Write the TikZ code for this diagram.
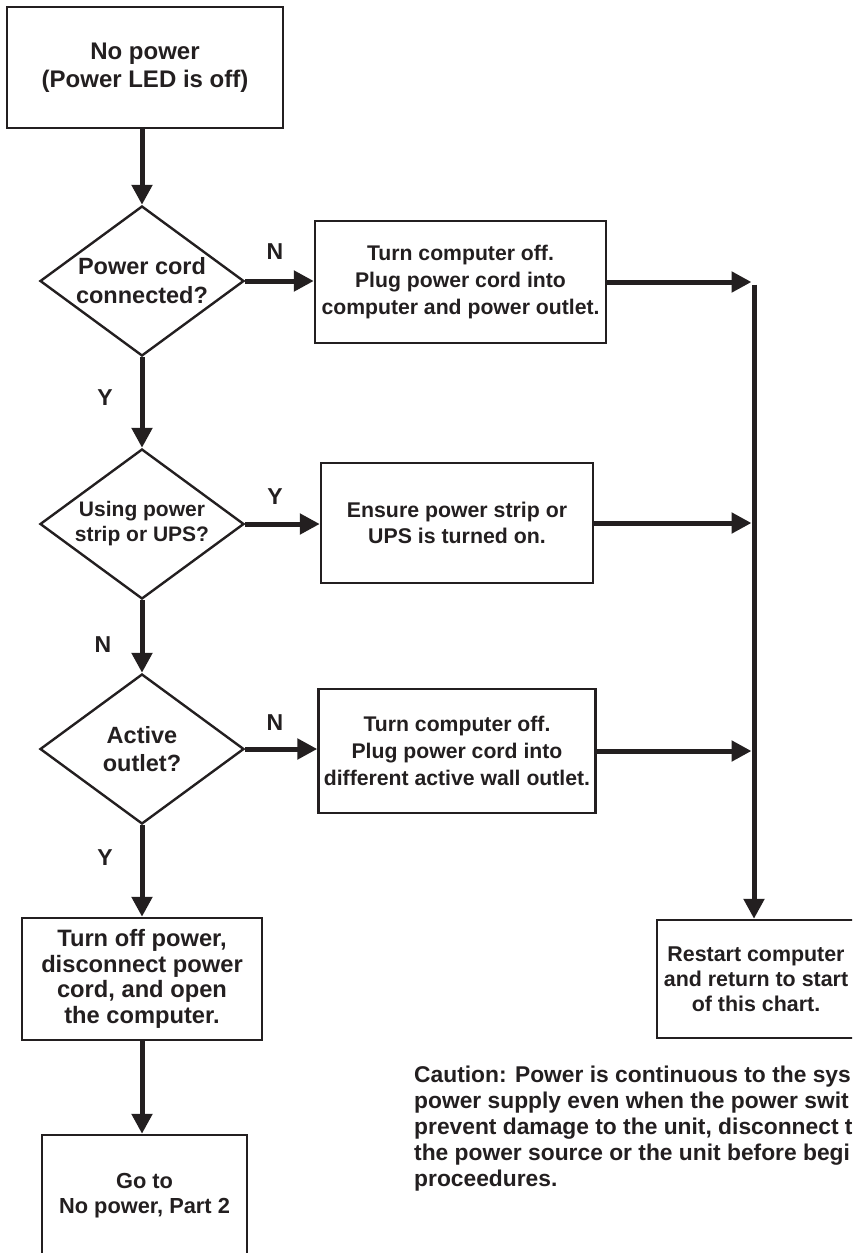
\documentclass[tikz,border=0pt]{standalone}
\usepackage{fontspec}
\setmainfont{Liberation Sans}
\usetikzlibrary{shapes.geometric,arrows.meta}
\definecolor{ink}{RGB}{35,31,32}
\begin{document}
\begin{tikzpicture}[x=1pt,y=-1pt,
  every node/.style={text=ink},
  box/.style={draw=ink, line width=2.4pt, rectangle, inner sep=0pt, align=center},
  dia/.style={draw=ink, line width=2.4pt, diamond, aspect=1.36, inner sep=0pt,
              minimum width=204pt, minimum height=150pt, align=center},
  flow/.style={draw=ink, line width=5pt, -{Triangle[length=20pt,width=20pt]}},
  lbl/.style={font=\bfseries\fontsize{23}{27}\selectfont, inner sep=0pt},
  fs/.style 2 args={font=\bfseries\fontsize{#1}{#2}\selectfont},
]
\useasboundingbox (0,0) rectangle (852,1253);
\clip (0,0) rectangle (852,1253);

% boxes and decisions
\node[box, fs={24}{28}, minimum width=276pt, minimum height=121pt] (b1) at (145,67.5)
  {No power\\(Power LED is off)};
\node[dia, fs={23.5}{29}] (d1) at (142,281) {Power cord\\connected?};
\node[box, fs={21.2}{27}, minimum width=291pt, minimum height=122pt] (b2) at (460.5,282)
  {Turn computer off.\\Plug power cord into\\computer and power outlet.};
\node[dia, fs={21}{25}] (d2) at (142,524) {Using power\\strip or UPS?};
\node[box, fs={21.3}{25.5}, minimum width=272pt, minimum height=120pt] (b3) at (457,523)
  {Ensure power strip or\\UPS is turned on.};
\node[dia, fs={23.5}{28}] (d3) at (142,749) {Active\\outlet?};
\node[box, fs={21.2}{27}, minimum width=277pt, minimum height=124pt] (b4) at (457,751)
  {Turn computer off.\\Plug power cord into\\different active wall outlet.};
\node[box, fs={23.7}{25.7}, minimum width=240pt, minimum height=122pt] (b5) at (142,979)
  {Turn off power,\\disconnect power\\cord, and open\\the computer.};
\node[box, fs={21.8}{25}, minimum width=205pt, minimum height=121pt] (b6) at (144.5,1195.5)
  {Go to\\No power, Part 2};
\node[box, fs={21.4}{25}, minimum width=198pt, minimum height=118pt] (rs) at (756,979)
  {Restart computer\\and return to start\\of this chart.};

\node[fs={22.8}{26}, inner sep=0pt, align=left, anchor=north west] (caution) at (414,1066)
  {Caution: Power is continuous to the sys\\power supply even when the power swit\\prevent damage to the unit, disconnect t\\the power source or the unit before begi\\proceedures.};

% labels
\node[lbl] (lN1) at (275,252) {N};
\node[lbl] (lY1) at (105,398) {Y};
\node[lbl] (lY2) at (275,497) {Y};
\node[lbl] (lN2) at (103,645) {N};
\node[lbl] (lN3) at (275,723) {N};
\node[lbl] (lY3) at (105,858) {Y};

% junctions on the collecting line
\coordinate (j1) at (754,282);
\coordinate (j2) at (754,523);
\coordinate (j3) at (754,751);

% main column
\draw[flow] (b1.south -| d1.north) -- (d1.north);
\draw[flow] (d1.south) -- (d2.north);
\draw[flow] (d2.south) -- (d3.north);
\draw[flow] (d3.south) -- (d3.south |- b5.north);
\draw[flow] (d3.south |- b5.south) -- (d3.south |- b6.north);

% side branches
\draw[flow] (d1.east) -- (b2.west |- d1.east);
\draw[flow] (d2.east) -- (b3.west |- d2.east);
\draw[flow] (d3.east) -- (b4.west |- d3.east);

% to collecting line
\draw[flow, shorten >=2.5pt] (b2.east |- j1) -- (j1);
\draw[flow, shorten >=2.5pt] (b3.east |- j2) -- (j2);
\draw[flow, shorten >=2.5pt] (b4.east |- j3) -- (j3);
\draw[flow] ([yshift=-2.5pt]j1) -- (j1 |- rs.north);
\end{tikzpicture}
\end{document}
